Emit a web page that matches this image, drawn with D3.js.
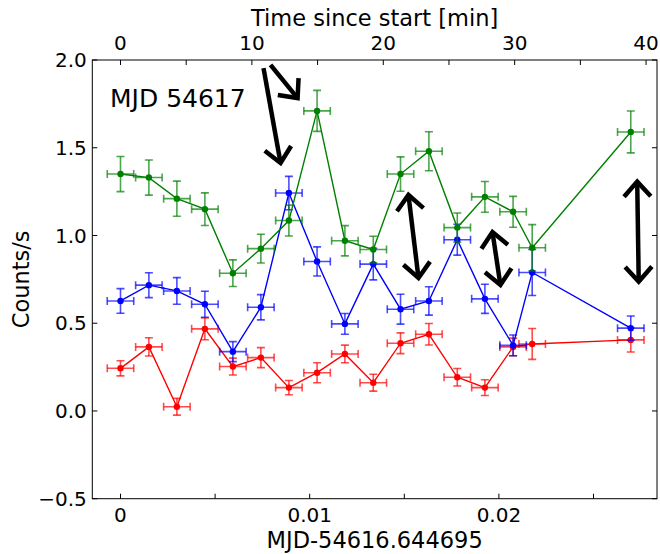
<!DOCTYPE html>
<html>
<head>
<meta charset="utf-8">
<script src="https://cdn.jsdelivr.net/npm/d3@7"></script>
<style>
  html, body { margin: 0; padding: 0; background: #fff; }
  svg { display: block; font-family: "DejaVu Sans", sans-serif; }
</style>
</head>
<body>
<svg id="chart" width="660" height="554"></svg>
<script>
// ---- data ----
const times = [0, 0.00150, 0.00298, 0.00446, 0.00594, 0.00742, 0.00890, 0.01039, 0.01186,
               0.01336, 0.01480, 0.01630, 0.01780, 0.01926, 0.02075, 0.02176, 0.02697];
const timeErr = 0.0007;
const green = [1.35, 1.33, 1.21, 1.15, 0.785, 0.925, 1.085, 1.71, 0.97, 0.92, 1.35, 1.48,
               1.045, 1.22, 1.135, 0.93, 1.59];
const greenErr = [0.10, 0.10, 0.10, 0.093, 0.076, 0.082, 0.088, 0.117, 0.086, 0.076, 0.098,
                  0.111, 0.083, 0.088, 0.088, 0.132, 0.119];
const blue = [0.627, 0.717, 0.684, 0.608, 0.338, 0.591, 1.242, 0.852, 0.496, 0.837, 0.58,
              0.627, 0.976, 0.639, 0.374, 0.789, 0.472];
const blueErr = [0.07, 0.071, 0.076, 0.074, 0.057, 0.072, 0.095, 0.083, 0.059, 0.09, 0.085,
                 0.081, 0.088, 0.083, 0.059, 0.131, 0.069];
const red = [0.243, 0.365, 0.024, 0.468, 0.253, 0.304, 0.133, 0.218, 0.325, 0.161, 0.386,
             0.437, 0.192, 0.133, 0.365, 0.382, 0.405];
const redErr = [0.043, 0.052, 0.048, 0.062, 0.048, 0.057, 0.041, 0.057, 0.05, 0.048, 0.059,
                0.061, 0.05, 0.045, 0.05, 0.088, 0.069];

const xTicks = [0, 0.005, 0.01, 0.015, 0.02, 0.025];
const xTickLabels = ["0", "", "0.01", "", "0.02", ""];
const yTicks = [-0.5, 0, 0.5, 1.0, 1.5, 2.0];
const yTickLabels = ["\u22120.5", "0.0", "0.5", "1.0", "1.5", "2.0"];
const minTicks = [0, 5, 10, 15, 20, 25, 30, 35, 40];
const minTickLabels = ["0", "", "10", "", "20", "", "30", "", "40"];

// arrows: [x1, y1, x2, y2, double-headed]
const arrowsData = [
  [0.00756, 1.954, 0.00846, 1.413, false],
  [0.00793, 1.972, 0.00936, 1.783, false],
  [0.01522, 1.231, 0.01575, 0.758, true],
  [0.01966, 1.020, 0.02008, 0.718, true],
  [0.02731, 1.307, 0.02739, 0.737, true]
];
const annotationText = "MJD 54617";
const xDomain = [-0.00149, 0.028356];
const yDomain = [-0.5, 2.0];

// ---- layout ----
const W = 660, H = 554;
const m = { left: 92.3, right: 3, top: 60, bottom: 55.3 };
const svg = d3.select("#chart");
const x = d3.scaleLinear().domain(xDomain).range([m.left, W - m.right]);
const y = d3.scaleLinear().domain(yDomain).range([H - m.bottom, m.top]);
const xMin = d3.scaleLinear().domain(xDomain.map(d => d * 1440)).range([m.left, W - m.right]);

const plot = svg.append("g");
svg.append("clipPath").attr("id", "clip").append("rect")
  .attr("x", m.left).attr("y", m.top)
  .attr("width", W - m.left - m.right).attr("height", H - m.top - m.bottom);

const series = [
  { vals: red, errs: redErr, color: "#ff0000" },
  { vals: blue, errs: blueErr, color: "#0000ff" },
  { vals: green, errs: greenErr, color: "#008000" }
];

const cap = 4;
series.forEach(s => {
  const g = plot.append("g").attr("clip-path", "url(#clip)");
  const pts = times.map((t, i) => ({ t, v: s.vals[i], e: s.errs[i] }));
  const eg = g.append("g").attr("stroke", s.color).attr("stroke-width", 1.6)
    .attr("stroke-opacity", 0.7).attr("fill", "none");
  pts.forEach(p => {
    const cx = x(p.t), cy = y(p.v);
    const y0 = y(p.v - p.e), y1 = y(p.v + p.e);
    const x0 = x(p.t - timeErr), x1 = x(p.t + timeErr);
    eg.append("line").attr("x1", cx).attr("x2", cx).attr("y1", y0).attr("y2", y1);
    eg.append("line").attr("x1", cx - cap).attr("x2", cx + cap).attr("y1", y0).attr("y2", y0);
    eg.append("line").attr("x1", cx - cap).attr("x2", cx + cap).attr("y1", y1).attr("y2", y1);
    eg.append("line").attr("x1", x0).attr("x2", x1).attr("y1", cy).attr("y2", cy);
    eg.append("line").attr("x1", x0).attr("x2", x0).attr("y1", cy - cap).attr("y2", cy + cap);
    eg.append("line").attr("x1", x1).attr("x2", x1).attr("y1", cy - cap).attr("y2", cy + cap);
  });
  g.append("path").datum(pts)
    .attr("d", d3.line().x(p => x(p.t)).y(p => y(p.v)))
    .attr("fill", "none").attr("stroke", s.color).attr("stroke-width", 1.4);
  g.selectAll("circle").data(pts).join("circle")
    .attr("cx", p => x(p.t)).attr("cy", p => y(p.v)).attr("r", 3.2)
    .attr("fill", s.color);
});

// ---- arrows ----
const ag = plot.append("g").attr("stroke", "#000").attr("stroke-width", 4.5)
  .attr("fill", "none").attr("stroke-linejoin", "miter").attr("stroke-linecap", "butt");
const headLen = 20, headAng = 42 * Math.PI / 180;
function head(px, py, fx, fy) {
  const a = Math.atan2(fy - py, fx - px);
  const w1 = [px + headLen * Math.cos(a + headAng), py + headLen * Math.sin(a + headAng)];
  const w2 = [px + headLen * Math.cos(a - headAng), py + headLen * Math.sin(a - headAng)];
  return `M${w1[0]},${w1[1]}L${px},${py}L${w2[0]},${w2[1]}`;
}
arrowsData.forEach(([ax1, ay1, ax2, ay2, dbl]) => {
  const X1 = x(ax1), Y1 = y(ay1), X2 = x(ax2), Y2 = y(ay2);
  ag.append("line").attr("x1", X1).attr("y1", Y1).attr("x2", X2).attr("y2", Y2);
  ag.append("path").attr("d", head(X2, Y2, X1, Y1));
  if (dbl) ag.append("path").attr("d", head(X1, Y1, X2, Y2));
});

// ---- annotation ----
svg.append("text").attr("x", 110).attr("y", 106.5)
  .attr("font-size", 25).attr("fill", "#000").text(annotationText);

// ---- frame and ticks ----
const axisG = svg.append("g").attr("stroke", "#000").attr("stroke-width", 1);
const pTop = m.top, pBot = H - m.bottom, pLeft = m.left, pRight = W - m.right;
axisG.append("rect").attr("x", pLeft).attr("y", pTop)
  .attr("width", pRight - pLeft).attr("height", pBot - pTop).attr("fill", "none");
const tl = 5;
xTicks.forEach(t => {
  axisG.append("line").attr("x1", x(t)).attr("x2", x(t)).attr("y1", pBot).attr("y2", pBot - tl);
});
minTicks.forEach(t => {
  axisG.append("line").attr("x1", xMin(t)).attr("x2", xMin(t)).attr("y1", pTop).attr("y2", pTop + tl);
});
yTicks.forEach(t => {
  axisG.append("line").attr("x1", pLeft).attr("x2", pLeft + tl).attr("y1", y(t)).attr("y2", y(t));
  axisG.append("line").attr("x1", pRight).attr("x2", pRight - tl).attr("y1", y(t)).attr("y2", y(t));
});

const fs = 20;
const lbl = svg.append("g").attr("font-size", fs).attr("fill", "#000");
xTicks.forEach((t, i) => {
  if (xTickLabels[i]) lbl.append("text").attr("x", x(t)).attr("y", pBot + 23)
    .attr("text-anchor", "middle").text(xTickLabels[i]);
});
minTicks.forEach((t, i) => {
  if (minTickLabels[i]) lbl.append("text").attr("x", xMin(t)).attr("y", pTop - 10.5)
    .attr("text-anchor", "middle").text(minTickLabels[i]);
});
yTicks.forEach((t, i) => {
  lbl.append("text").attr("x", pLeft - 5.5).attr("y", y(t)).attr("dy", "0.36em")
    .attr("text-anchor", "end").text(yTickLabels[i]);
});

// ---- axis titles ----
const ttl = svg.append("g").attr("font-size", 22.5).attr("fill", "#000").attr("text-anchor", "middle");
ttl.append("text").attr("x", (pLeft + pRight) / 2).attr("y", 26).text("Time since start [min]");
ttl.append("text").attr("x", (pLeft + pRight) / 2).attr("y", 548).text("MJD-54616.644695");
ttl.append("text").attr("transform", `translate(29,${(pTop + pBot) / 2}) rotate(-90)`).text("Counts/s");
</script>
</body>
</html>
